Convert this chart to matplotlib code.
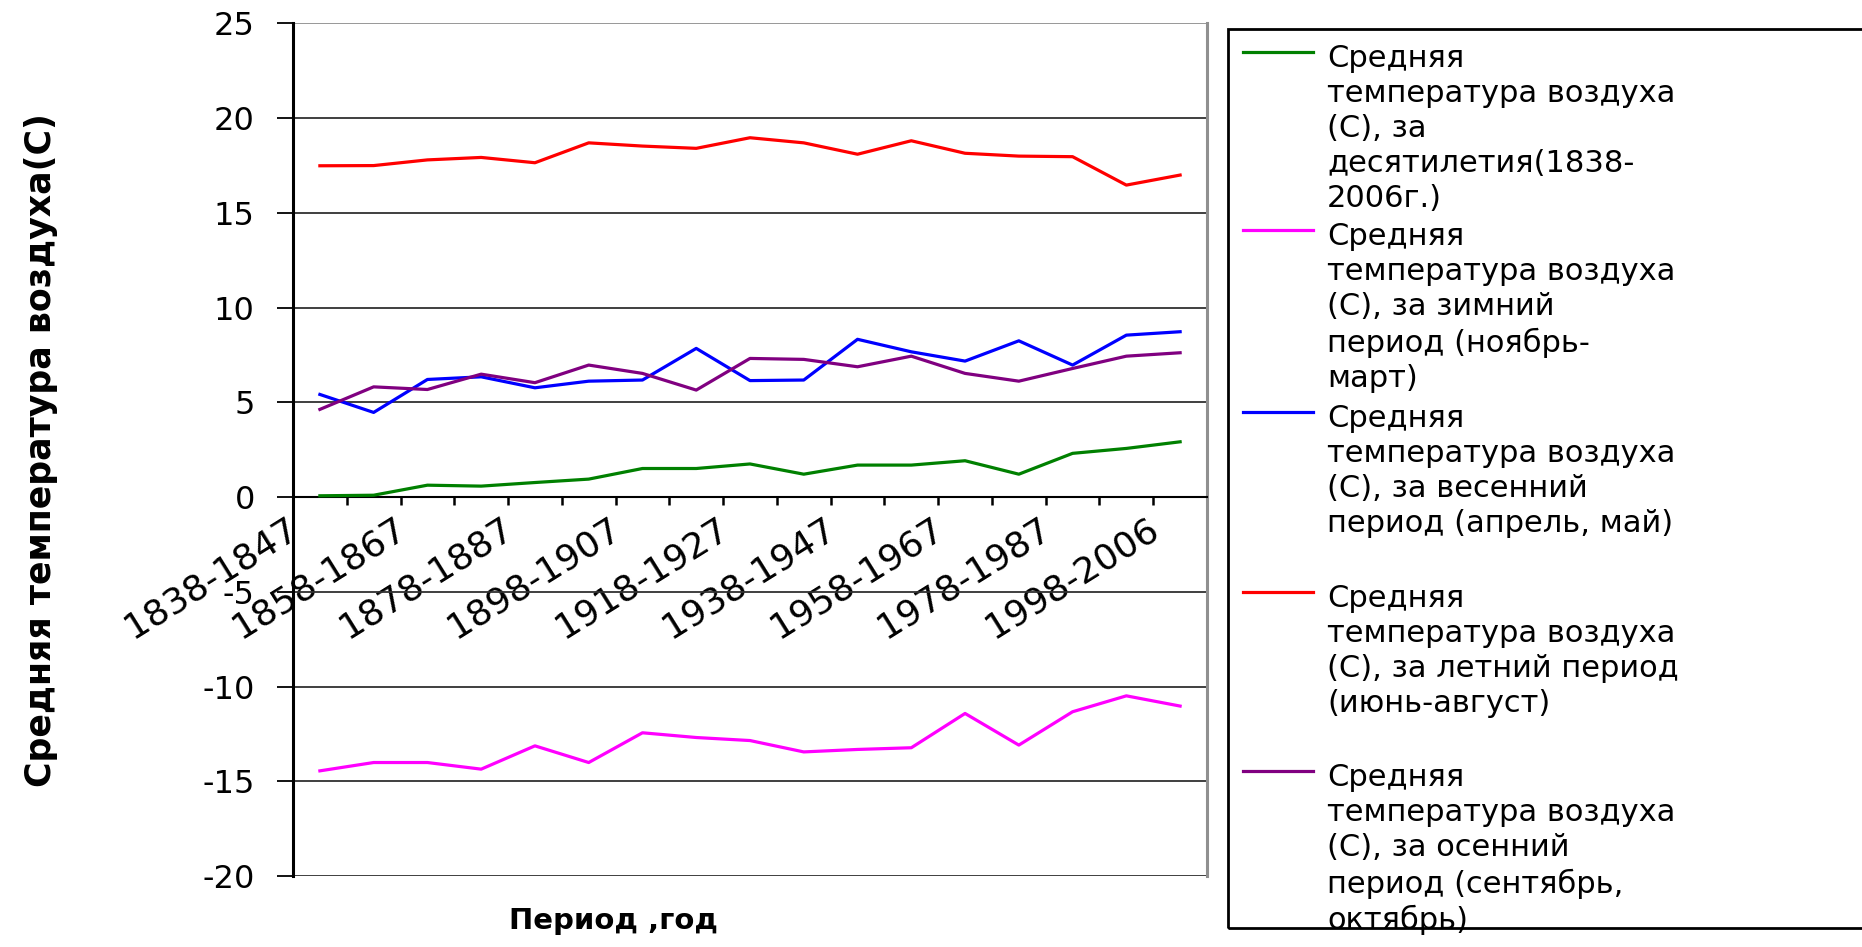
import numpy as np
import matplotlib
matplotlib.use('Agg')
import matplotlib.pyplot as plt
from matplotlib.lines import Line2D
from matplotlib.patches import Rectangle
from matplotlib.transforms import ScaledTranslation

plt.rcParams['axes.unicode_minus'] = False

# ── Data ──────────────────────────────────────────────────────────────────────
periods = ['1838-1847', '1848-1857', '1858-1867', '1868-1877', '1878-1887',
           '1888-1897', '1898-1907', '1908-1917', '1918-1927', '1928-1937',
           '1938-1947', '1948-1957', '1958-1967', '1968-1977', '1978-1987',
           '1988-1997', '1998-2006']

t_decade = [0.07, 0.10, 0.63, 0.58, 0.77, 0.95, 1.51, 1.51, 1.75, 1.21,
            1.69, 1.69, 1.92, 1.21, 2.31, 2.57, 2.92]
t_winter = [-14.45, -14.01, -14.01, -14.36, -13.13, -14.01, -12.44, -12.69, -12.85,
            -13.45, -13.32, -13.23, -11.42, -13.09, -11.33, -10.49, -11.03]
t_spring = [5.42, 4.47, 6.21, 6.35, 5.77, 6.12, 6.18, 7.85, 6.15, 6.18,
            8.33, 7.67, 7.18, 8.25, 6.97, 8.55, 8.73]
t_summer = [17.49, 17.50, 17.80, 17.93, 17.65, 18.70, 18.53, 18.41, 18.97, 18.70,
            18.10, 18.81, 18.15, 18.00, 17.97, 16.47, 17.00]
t_autumn = [4.63, 5.82, 5.68, 6.49, 6.04, 6.97, 6.53, 5.65, 7.32, 7.27,
            6.88, 7.44, 6.53, 6.12, 6.79, 7.44, 7.62]

labels = [
    'Средняя\nтемпература воздуха\n(С), за\nдесятилетия(1838-\n2006г.)',
    'Средняя\nтемпература воздуха\n(С), за зимний\nпериод (ноябрь-\nмарт)',
    'Средняя\nтемпература воздуха\n(С), за весенний\nпериод (апрель, май)',
    'Средняя\nтемпература воздуха\n(С), за летний период\n(июнь-август)',
    'Средняя\nтемпература воздуха\n(С), за осенний\nпериод (сентябрь,\nоктябрь)',
]
series = [t_decade, t_winter, t_spring, t_summer, t_autumn]
colors = ['#008000', '#FF00FF', '#0000FF', '#FF0000', '#800080']

# ── Figure ────────────────────────────────────────────────────────────────────
W, H = 1862, 947
fig = plt.figure(figsize=(W / 100, H / 100), dpi=100)
fig.patch.set_facecolor('white')

x0, x1 = 293, 1207
y_top, y_bot = 23.5, 876
ax = fig.add_axes([x0 / W, (H - y_bot) / H, (x1 - x0) / W, (y_bot - y_top) / H])

x = np.arange(len(periods))
for vals, col in zip(series, colors):
    ax.plot(x, vals, color=col, linewidth=2.3, zorder=3)

ax.set_xlim(-0.5, len(periods) - 0.5)
ax.set_ylim(-20, 25)
ax.set_yticks(np.arange(-20, 26, 5))
ax.yaxis.grid(True, color='#303030', linewidth=1.3)
ax.get_ygridlines()[-1].set_color('#909090')
ax.set_axisbelow(True)

# y axis
ax.spines['left'].set_linewidth(2.2)
ax.spines['left'].set_color('black')
ax.spines['right'].set_color('#909090')
ax.spines['right'].set_linewidth(2.2)
ax.spines['top'].set_visible(False)
ax.spines['bottom'].set_position(('data', 0))
ax.spines['bottom'].set_color('black')
ax.spines['bottom'].set_linewidth(1.5)
ax.tick_params(axis='y', direction='out', length=11.5, width=1.3, color='black',
               labelsize=23, pad=16)

# x axis: boundary ticks + every other label
ax.set_xticks(np.arange(-0.5, len(periods), 1), minor=True)
ax.tick_params(axis='x', which='minor', direction='out', length=5.5, width=1.8, color='black')
ax.set_xticks(x[::2])
ax.set_xticklabels(periods[::2])
ax.tick_params(axis='x', which='major', length=0, pad=10, labelsize=26)
offset = ScaledTranslation(-0.34, 0, fig.dpi_scale_trans)
for lab in ax.get_xticklabels():
    lab.set_rotation(32)
    lab.set_rotation_mode('anchor')
    lab.set_ha('right')
    lab.set_va('top')
    lab.set_transform(lab.get_transform() + offset)

fig.text(41 / W, (H - 450) / H, 'Средняя температура воздуха(С)', rotation=90,
         ha='center', va='center', fontsize=25, fontweight='bold')
fig.text(613 / W, (H - 921) / H, 'Период ,год', ha='center', va='center',
         fontsize=21, fontweight='bold')

# ── Legend box ────────────────────────────────────────────────────────────────
fig.patches.append(Rectangle((1228 / W, (H - 928) / H), (W + 20 - 1228) / W, (928 - 29) / H,
                             transform=fig.transFigure, fill=False,
                             edgecolor='black', linewidth=2, clip_on=False))
handle_y = [52, 230, 412, 592, 771]
for hy, col, lab in zip(handle_y, colors, labels):
    fig.add_artist(Line2D([1243 / W, 1313 / W], [(H - hy) / H] * 2,
                          transform=fig.transFigure, color=col, linewidth=2.3))
    fig.text(1327 / W, (H - hy + 8) / H, lab, ha='left', va='top',
             fontsize=22, linespacing=1.26)

plt.savefig('out.png', dpi=100)
plt.close()
